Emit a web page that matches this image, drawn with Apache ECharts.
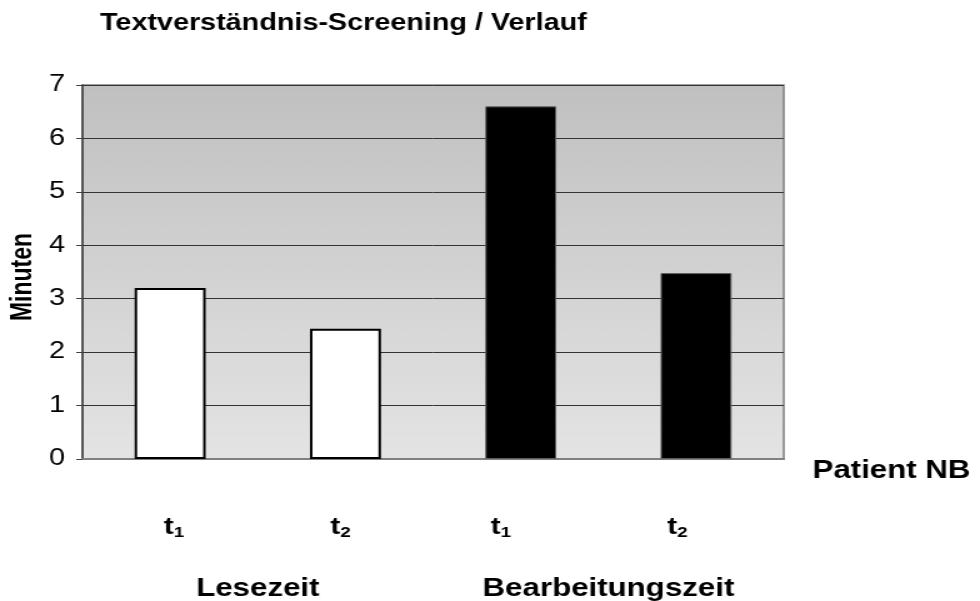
<!DOCTYPE html>
<html>
<head>
<meta charset="utf-8">
<script src="https://cdn.jsdelivr.net/npm/echarts@6/dist/echarts.min.js"></script>
<style>
html,body{margin:0;padding:0;background:#fff;overflow:hidden;width:980px;height:601px;}
#chart{width:784px;height:601px;transform:scaleX(1.25);transform-origin:0 0;}
</style>
</head>
<body>
<div id="chart"></div>
<script>
// ---- data ----
var titleText = 'Textverständnis-Screening / Verlauf';
var categories = ['t1', 't2', 't1', 't2'];
var groups = ['Lesezeit', 'Bearbeitungszeit'];
var lesezeit = [3.2, 2.44, '-', '-'];
var bearbeitungszeit = ['-', '-', 6.6, 3.48];
var yTicks = [0, 1, 2, 3, 4, 5, 6, 7];
var yName = 'Minuten';
var xName = 'Patient NB';

var chart = echarts.init(document.getElementById('chart'), null, {renderer: 'canvas'});
var FONT = 'Liberation Sans, Arial, sans-serif';
var labelShift = [3, -4, -16, -15];

chart.setOption({
  animation: false,
  backgroundColor: '#ffffff',
  title: {
    text: titleText,
    left: 80, top: 12, padding: 0,
    textStyle: {fontFamily: FONT, fontSize: 23, fontWeight: 'bold', color: '#000'}
  },
  grid: {
    left: 66, right: 157, top: 85, bottom: 142,
    outerBoundsMode: 'none',
    containLabel: false,
    show: true,
    borderColor: '#808080', borderWidth: 1.5,
    backgroundColor: new echarts.graphic.LinearGradient(0, 0, 0, 1, [
      {offset: 0, color: '#c0c0c0'},
      {offset: 1, color: '#e4e4e4'}
    ])
  },
  xAxis: [{
    type: 'category',
    data: categories,
    position: 'bottom',
    name: xName,
    nameLocation: 'end',
    nameGap: 23,
    nameMoveOverlap: false,
    nameTextStyle: {fontFamily: FONT, fontSize: 25, fontWeight: 'bold', color: '#000', verticalAlign: 'top', lineHeight: 24},
    axisLine: {lineStyle: {color: '#808080', width: 2}},
    axisTick: {show: false},
    axisLabel: {
      margin: 54,
      interval: 0,
      formatter: function (v, i) {
        var sub = v.slice(1);
        var s = labelShift[i];
        var pre = s > 0 ? '{sp' + (2 * s) + '| }' : '';
        var post = s < 0 ? '{sp' + (-2 * s) + '| }' : '';
        return pre + '{t|t}{s|' + sub + '}' + post;
      },
      rich: {
        t: {fontFamily: FONT, fontSize: 24, fontWeight: 'bold', color: '#000', lineHeight: 28},
        s: {fontFamily: FONT, fontSize: 15, fontWeight: 'bold', color: '#000', padding: [11, 0, 0, 0]},
        sp6: {width: 6, fontSize: 8},
        sp8: {width: 8, fontSize: 8},
        sp30: {width: 30, fontSize: 8},
        sp32: {width: 32, fontSize: 8}
      }
    },
    splitLine: {show: false}
  }, {
    type: 'category',
    data: groups,
    position: 'bottom',
    axisLine: {show: false},
    axisTick: {show: false},
    axisLabel: {
      margin: 118, interval: 0,
      fontFamily: FONT, fontSize: 25, fontWeight: 'bold', color: '#000'
    },
    splitLine: {show: false}
  }],
  yAxis: {
    type: 'value',
    min: 0, max: 7, interval: 1,
    name: yName,
    nameLocation: 'middle',
    nameRotate: 90,
    nameGap: 36,
    nameMoveOverlap: false,
    nameTextStyle: {fontFamily: FONT, fontSize: 23, fontWeight: 'bold', color: '#000', padding: [0, 10, 0, 0]},
    axisLine: {show: true, lineStyle: {color: '#404040', width: 1.5}},
    axisTick: {show: true, length: 5, inside: false, lineStyle: {color: '#404040', width: 1}},
    axisLabel: {
      margin: 14,
      fontFamily: FONT, fontSize: 23, color: '#000',
      formatter: function (v) { return yTicks.indexOf(v) >= 0 ? String(v) : ''; }
    },
    splitLine: {show: true, lineStyle: {color: '#333333', width: 1}}
  },
  series: [{
    name: groups[0],
    type: 'bar',
    xAxisIndex: 0,
    data: lesezeit,
    barWidth: '40.5%',
    barGap: '-100%',
    itemStyle: {color: '#ffffff', borderColor: '#000000', borderWidth: 2}
  }, {
    name: groups[1],
    type: 'bar',
    xAxisIndex: 0,
    data: bearbeitungszeit,
    barWidth: '40.5%',
    barGap: '-100%',
    itemStyle: {color: '#000000', borderColor: '#606060', borderWidth: 1}
  }]
});
</script>
</body>
</html>
